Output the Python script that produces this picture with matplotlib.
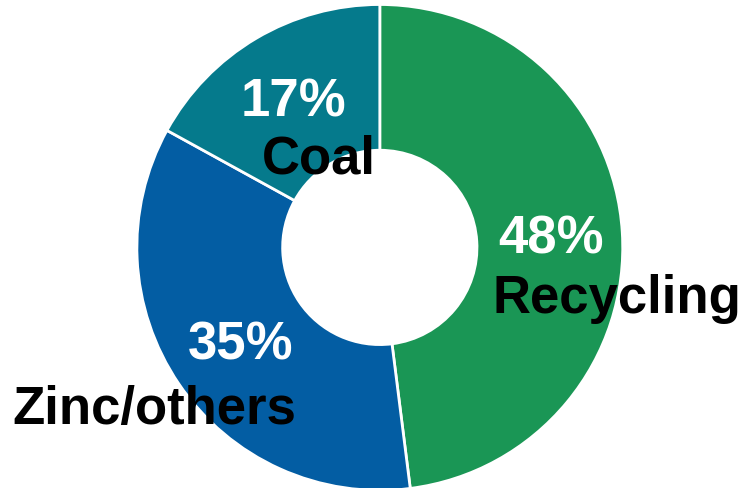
import matplotlib.pyplot as plt

# data
labels = ['Recycling', 'Zinc/others', 'Coal']
shares = [48, 35, 17]
colors = ['#1a9655', '#035da3', '#057a8c']

# label placement (data coords, unit radius)
pct_pos = [(0.705, 0.035), (-0.575, -0.40), (-0.355, 0.60)]
name_pos = [(0.975, -0.21), (-0.93, -0.665), (-0.25, 0.365)]

fig = plt.figure(figsize=(7.44, 4.89), dpi=100)
ax = fig.add_axes([0.184, -0.005, 0.653, 0.994])

ax.pie(shares, colors=colors, startangle=90, counterclock=False,
       radius=1.0, wedgeprops=dict(width=0.6, edgecolor='white', linewidth=2))
ax.set_xlim(-1, 1)
ax.set_ylim(-1, 1)
ax.set_aspect('equal')
ax.axis('off')

for (x, y), s in zip(pct_pos, shares):
    ax.text(x, y, f'{s}%', color='white', fontsize=38, fontweight='bold',
            family='Liberation Sans', ha='center', va='center')
for (x, y), name in zip(name_pos, labels):
    ax.text(x, y, name, color='black', fontsize=38, fontweight='bold',
            family='Liberation Sans', ha='center', va='center', clip_on=False)

fig.savefig('out.png', dpi=100)
